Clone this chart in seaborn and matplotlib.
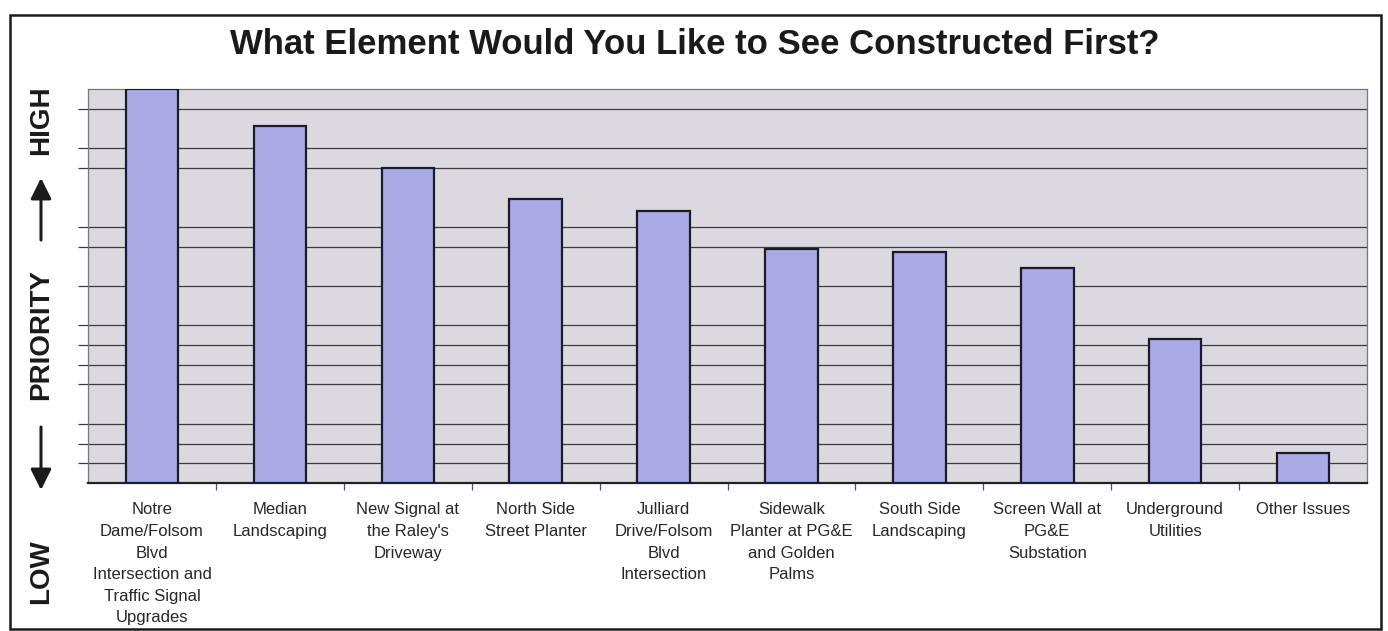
import matplotlib as mpl
mpl.use('Agg')

import matplotlib.pyplot as plt
import matplotlib.patches as mpatches
import seaborn as sns
import pandas as pd

sns.set_style("white")
plt.rcParams['font.family'] = ['Liberation Sans', 'DejaVu Sans']

# categories and priority scores
categories = [
    "Notre\nDame/Folsom\nBlvd\nIntersection and\nTraffic Signal\nUpgrades",
    "Median\nLandscaping",
    "New Signal at\nthe Raley's\nDriveway",
    "North Side\nStreet Planter",
    "Julliard\nDrive/Folsom\nBlvd\nIntersection",
    "Sidewalk\nPlanter at PG&E\nand Golden\nPalms",
    "South Side\nLandscaping",
    "Screen Wall at\nPG&E\nSubstation",
    "Underground\nUtilities",
    "Other Issues",
]
scores = [20.0, 18.1, 16.0, 14.4, 13.8, 11.9, 11.7, 10.9, 7.3, 1.5]

# gridlines that survived in the scanned copy
grid_vals = [1, 2, 3, 5, 6, 7, 8, 10, 12, 13, 16, 17, 19]

df = pd.DataFrame({"element": categories, "score": scores})

fig = plt.figure(figsize=(13.88, 6.31), dpi=100)
ax = fig.add_axes([0.0634, 0.2346, 0.9215, 0.6244])
ax.set_facecolor('#dcd8df')

sns.barplot(data=df, x="element", y="score", color='#a9a9e6', saturation=1,
            edgecolor='#1a1a2a', linewidth=1.6, width=0.41, ax=ax, zorder=3)

ax.set_xlim(-0.5, len(categories) - 0.5)
ax.set_ylim(0, 20)
ax.set_yticks(grid_vals)
ax.set_yticklabels([])
ax.yaxis.grid(True, color='#3a3a3a', linewidth=0.9, zorder=0)
ax.set_axisbelow(True)
ax.tick_params(axis='y', left=True, length=7, width=0.9, color='#3a3a3a')

# category tick marks sit between the bars
ax.set_xticks([i + 0.5 for i in range(len(categories) - 1)], minor=True)
ax.tick_params(axis='x', which='minor', bottom=True, length=5, width=0.9, color='#555555')
ax.tick_params(axis='x', which='major', bottom=False, length=0, pad=14)
ax.set_xticklabels(categories, fontsize=12, linespacing=1.55, va='top', ha='center')
ax.set_xlabel('')
ax.set_ylabel('')

for side in ['left', 'top', 'right']:
    ax.spines[side].set_color('#777777')
    ax.spines[side].set_linewidth(0.9)
ax.spines['bottom'].set_color('#222222')
ax.spines['bottom'].set_linewidth(1.6)

fig.text(0.5007, 1 - 44 / 631, "What Element Would You Like to See Constructed First?",
         ha='center', va='center', fontsize=25, fontweight='bold', color='#1a1a1a')

# vertical priority axis caption
fx = 41 / 1388
fig.text(fx, 1 - 120 / 631, "HIGH", rotation=90, ha='center', va='center',
         fontsize=20, fontweight='bold', color='#1a1a1a')
fig.text(fx, 1 - 335 / 631, "PRIORITY", rotation=90, ha='center', va='center',
         fontsize=20, fontweight='bold', color='#1a1a1a')
fig.text(fx, 1 - 572 / 631, "LOW", rotation=90, ha='center', va='center',
         fontsize=20, fontweight='bold', color='#1a1a1a')
arrow = dict(arrowstyle='-|>,head_length=0.9,head_width=0.45', color='#1a1a1a',
             lw=2.2, mutation_scale=14, shrinkA=0, shrinkB=0)
fig.add_artist(mpatches.FancyArrowPatch((fx, 1 - 240 / 631), (fx, 1 - 178 / 631),
                                        transform=fig.transFigure, **arrow))
fig.add_artist(mpatches.FancyArrowPatch((fx, 1 - 427 / 631), (fx, 1 - 490 / 631),
                                        transform=fig.transFigure, **arrow))

# outer frame around the chart
frame = mpatches.Rectangle((10 / 1388, 2 / 631), 1371 / 1388, 614 / 631,
                           transform=fig.transFigure, fill=False,
                           edgecolor='#1a1a1a', linewidth=1.8)
fig.add_artist(frame)

plt.savefig("out.png", dpi=100)
